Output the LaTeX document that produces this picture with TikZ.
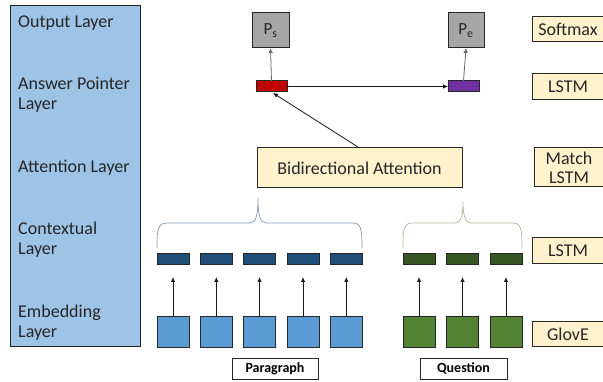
\documentclass[tikz,border=0pt]{standalone}
\usepackage{fontspec}
\setmainfont{Carlito}
\usetikzlibrary{arrows.meta}
\definecolor{panelblue}{HTML}{9DC3E6}
\definecolor{beige}{HTML}{FFF2CC}
\definecolor{boxgray}{HTML}{A6A6A6}
\definecolor{ptrred}{HTML}{C00000}
\definecolor{ptrpurple}{HTML}{7030A0}
\definecolor{ctxblue}{HTML}{1F4E79}
\definecolor{ctxgreen}{HTML}{375623}
\definecolor{embblue}{HTML}{5B9BD5}
\definecolor{embgreen}{HTML}{548235}
\definecolor{bracep}{HTML}{8497B0}
\definecolor{braceq}{HTML}{A9BA96}
\begin{document}
\begin{tikzpicture}[x=1pt,y=-1pt,
  box/.style={draw=black!85, line width=1pt, inner sep=0pt, outer sep=0pt},
  beigebox/.style={box, fill=beige, font=\fontsize{18}{20}\selectfont, align=center, text=black!85},
  layertxt/.style={anchor=base west, inner sep=0pt, font=\fontsize{18}{20}\selectfont, text=black!85},
  arr/.style={-{Latex[length=5pt,width=4.5pt]}, line width=0.8pt, draw=black!90},
  grayarr/.style={-{Latex[length=5pt,width=4.5pt]}, line width=0.8pt, draw=black!60},
  ctx/.style={box, minimum width=32pt, minimum height=11pt},
  emb/.style={box, minimum width=32pt, minimum height=31pt},
  tag/.style={box, fill=white, line width=0.9pt, font=\fontsize{14}{15}\selectfont\bfseries}
]
\useasboundingbox (0,0) rectangle (603,382);
% left panel
\node[box, fill=panelblue, minimum width=130pt, minimum height=341pt] (panel) at (75,176.5) {};
\node[layertxt] (l1) at (18,27.5) {Output Layer};
\node[layertxt] (l2a) at (18,90) {Answer Pointer};
\node[layertxt] (l2b) at (18,110) {Layer};
\node[layertxt] (l3) at (18,172.5) {Attention Layer};
\node[layertxt] (l4a) at (18,235) {Contextual};
\node[layertxt] (l4b) at (18,255) {Layer};
\node[layertxt] (l5a) at (18,317.5) {Embedding};
\node[layertxt] (l5b) at (18,337.5) {Layer};
% right beige labels
\node[beigebox, minimum width=72pt, minimum height=25pt] (softmax) at (568,29.5) {Softmax};
\node[beigebox, minimum width=72pt, minimum height=26pt] (lstmA) at (568,87) {LSTM};
\node[beigebox, minimum width=70pt, minimum height=39pt, font=\fontsize{18}{19}\selectfont] (match) at (569,167.5) {Match\\LSTM};
\node[beigebox, minimum width=72pt, minimum height=26pt] (lstmC) at (568,251) {LSTM};
\node[beigebox, minimum width=72pt, minimum height=25pt] (glove) at (568,334.5) {GlovE};
% output
\node[box, fill=boxgray, minimum width=37pt, minimum height=35pt, font=\fontsize{17}{18}\selectfont, text=black!85] (ps) at (270.5,30.5) {P\textsubscript{s}};
\node[box, fill=boxgray, minimum width=36pt, minimum height=35pt, font=\fontsize{17}{18}\selectfont, text=black!85] (pe) at (466,30.5) {P\textsubscript{e}};
% pointer
\node[box, fill=ptrred, minimum width=31pt, minimum height=11pt] (red) at (271.5,86.5) {};
\node[box, fill=ptrpurple, minimum width=31pt, minimum height=11pt] (purple) at (463.5,86.5) {};
\draw[grayarr] (red.north) -- (ps.south);
\draw[grayarr] (purple.north) -- (pe.south);
\draw[arr] (red.east) -- (purple.west);
% attention
\node[beigebox, minimum width=205pt, minimum height=40pt] (bidaf) at (359.5,168) {Bidirectional Attention};
\coordinate (redin) at (273,93);
\draw[arr] (bidaf.north) -- (redin);
% contextual and embedding
\foreach \i/\x in {1/173,2/216.3,3/259.6,4/303,5/346.3}{
  \node[ctx, fill=ctxblue] (cp\i) at (\x,259.5) {};
  \node[emb, fill=embblue] (ep\i) at (\x,332.5) {};
  \coordinate (cpin\i) at (\x,277);
  \draw[arr] (ep\i.north) -- (cpin\i);
}
\foreach \i/\x in {1/419,2/462.5,3/506}{
  \node[ctx, fill=ctxgreen] (cq\i) at (\x,259.5) {};
  \node[emb, fill=embgreen] (eq\i) at (\x,332.5) {};
  \coordinate (cqin\i) at (\x,277);
  \draw[arr] (eq\i.north) -- (cqin\i);
}
% braces
\draw[bracep, line width=0.7pt] (157,248) .. controls (157,228) and (158,223) .. (168,223)
  -- (250,223) .. controls (256,223) and (258,215) .. (258,198)
  .. controls (258,215) and (260,223) .. (266,223) -- (352,223)
  .. controls (361,223) and (362,228) .. (362,248);
\draw[braceq, line width=0.7pt] (403,248) .. controls (403,228) and (404,223) .. (413,223)
  -- (455,223) .. controls (461,223) and (463,215) .. (463,202)
  .. controls (463,215) and (465,223) .. (471,223) -- (512,223)
  .. controls (521,223) and (522,228) .. (522,248);
% tags
\node[tag, minimum width=86pt, minimum height=21pt] (para) at (275,368.5) {Paragraph};
\node[tag, minimum width=87pt, minimum height=21pt] (ques) at (463.5,368.5) {Question};
\end{tikzpicture}
\end{document}
